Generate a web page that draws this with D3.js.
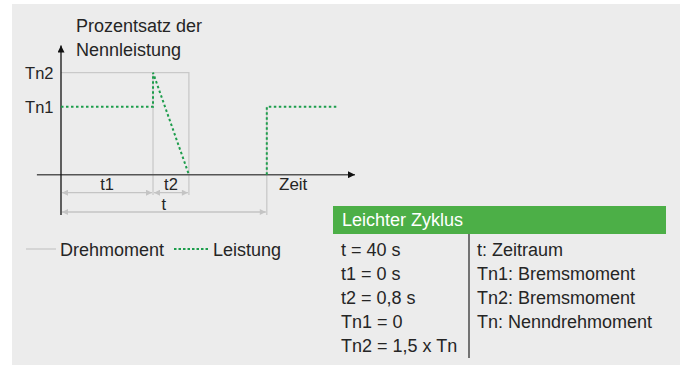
<!DOCTYPE html>
<html>
<head>
<meta charset="utf-8">
<script src="https://cdn.jsdelivr.net/npm/d3@7"></script>
<style>
  body { margin: 0; background: #fff; }
  svg text { font-family: "Liberation Sans", Arial, sans-serif; fill: #252525; }
</style>
</head>
<body>
<svg id="chart" width="680" height="365"></svg>
<script>
// level labels on the y axis (value in multiples of Tn)
var levelLabels = ['Tn1', 'Tn2'];
var levelValues = [1, 1.5];

// time marks (arbitrary units along the time axis)
var markNames = ['t1', 't2', 't'];
var markTimes = [31.3, 43.5, 70];

// power (Leistung) curve, two pieces
var powerTimes1 = [0, 31.3, 31.3, 43.5];
var powerValues1 = [1, 1, 1.5, 0];
var powerTimes2 = [70, 70, 94];
var powerValues2 = [0, 1, 1];

// torque (Drehmoment) curve
var torqueTimes = [0, 43.5, 43.5];
var torqueValues = [1.5, 1.5, 0];

// table content
var tableTitle = 'Leichter Zyklus';
var tableLeft = ['t = 40 s', 't1 = 0 s', 't2 = 0,8 s', 'Tn1 = 0', 'Tn2 = 1,5 x Tn'];
var tableRight = ['t: Zeitraum', 'Tn1: Bremsmoment', 'Tn2: Bremsmoment', 'Tn: Nenndrehmoment'];

var legendNames = ['Drehmoment', 'Leistung'];

var green = '#1d9d4c', grey = '#c9c9c9', dimGrey = '#c4c4c4';

var svg = d3.select('#chart');

svg.append('rect')
  .attr('x', 12).attr('y', 4)
  .attr('width', 668).attr('height', 361)
  .attr('fill', '#ececec');

var x = d3.scaleLinear().domain([0, 100]).range([61, 355]);
var y = d3.scaleLinear().domain([0, 1.9]).range([174.7, 45.5]);

var defs = svg.append('defs');
defs.append('marker').attr('id', 'arrowBlack')
  .attr('viewBox', '0 0 10 10').attr('refX', 10).attr('refY', 5)
  .attr('markerWidth', 10).attr('markerHeight', 7).attr('markerUnits', 'userSpaceOnUse')
  .attr('orient', 'auto')
  .append('path').attr('d', 'M0,0L10,5L0,10Z').attr('fill', '#111');
defs.append('marker').attr('id', 'arrowGrey')
  .attr('viewBox', '0 0 10 10').attr('refX', 10).attr('refY', 5)
  .attr('markerWidth', 8).attr('markerHeight', 6).attr('markerUnits', 'userSpaceOnUse')
  .attr('orient', 'auto-start-reverse')
  .append('path').attr('d', 'M0,0L10,5L0,10Z').attr('fill', dimGrey);

var line = d3.line().x(function(d) { return x(d[0]); }).y(function(d) { return y(d[1]); });

// extension lines of the time marks
svg.append('line')
  .attr('x1', x(markTimes[0])).attr('x2', x(markTimes[0]))
  .attr('y1', y(1.5)).attr('y2', 195)
  .attr('stroke', grey).attr('stroke-width', 1.3);
svg.append('line')
  .attr('x1', x(markTimes[1])).attr('x2', x(markTimes[1]))
  .attr('y1', y(0)).attr('y2', 195)
  .attr('stroke', grey).attr('stroke-width', 1.3);
svg.append('line')
  .attr('x1', x(markTimes[2])).attr('x2', x(markTimes[2]))
  .attr('y1', y(1)).attr('y2', 215)
  .attr('stroke', grey).attr('stroke-width', 1.3);

// torque
svg.append('path')
  .datum(d3.zip(torqueTimes, torqueValues))
  .attr('d', line)
  .attr('fill', 'none').attr('stroke', grey).attr('stroke-width', 1.3);

// axes
svg.append('line')
  .attr('x1', x(-8.2)).attr('x2', x(100))
  .attr('y1', y(0)).attr('y2', y(0))
  .attr('stroke', '#555').attr('stroke-width', 1.6)
  .attr('marker-end', 'url(#arrowBlack)');
svg.append('line')
  .attr('x1', x(0)).attr('x2', x(0))
  .attr('y1', 215).attr('y2', y(1.9))
  .attr('stroke', '#111').attr('stroke-width', 1.3)
  .attr('marker-end', 'url(#arrowBlack)');

// power
[d3.zip(powerTimes1, powerValues1), d3.zip(powerTimes2, powerValues2)].forEach(function(pts) {
  svg.append('path')
    .datum(pts)
    .attr('d', line)
    .attr('fill', 'none').attr('stroke', green)
    .attr('stroke-width', 2).attr('stroke-dasharray', '2.5,2.5');
});

// level labels
svg.selectAll('text.level')
  .data(levelLabels)
  .enter().append('text')
  .attr('class', 'level')
  .attr('x', 53.5)
  .attr('y', function(d, i) { return y(levelValues[i]) + 6.2; })
  .attr('text-anchor', 'end')
  .style('font-size', '16.5px')
  .text(function(d) { return d; });

// axis titles
svg.append('text').attr('x', 76).attr('y', 32).style('font-size', '18px').text('Prozentsatz der');
svg.append('text').attr('x', 76).attr('y', 55.5).style('font-size', '18px').text('Nennleistung');
svg.append('text').attr('x', 279).attr('y', 189.5).style('font-size', '17px').text('Zeit');

// dimension lines
var dims = [
  { from: 0, to: markTimes[0], y: 192.7, label: markNames[0], base: 190 },
  { from: markTimes[0], to: markTimes[1], y: 192.7, label: markNames[1], base: 190 },
  { from: 0, to: markTimes[2], y: 212, label: markNames[2], base: 210 }
];
dims.forEach(function(d) {
  svg.append('line')
    .attr('x1', x(d.from) + 1).attr('x2', x(d.to) - 1)
    .attr('y1', d.y).attr('y2', d.y)
    .attr('stroke', dimGrey).attr('stroke-width', 1.3)
    .attr('marker-start', 'url(#arrowGrey)')
    .attr('marker-end', 'url(#arrowGrey)');
  svg.append('text')
    .attr('x', (x(d.from) + x(d.to)) / 2)
    .attr('y', d.base)
    .attr('text-anchor', 'middle')
    .style('font-size', '16.5px')
    .text(d.label);
});

// legend
var lg = svg.append('g');
lg.append('line').attr('x1', 26).attr('x2', 56).attr('y1', 249).attr('y2', 249)
  .attr('stroke', grey).attr('stroke-width', 1.3);
lg.append('text').attr('x', 60).attr('y', 256).style('font-size', '18px').text(legendNames[0]);
lg.append('line').attr('x1', 174).attr('x2', 209).attr('y1', 249).attr('y2', 249)
  .attr('stroke', green).attr('stroke-width', 2).attr('stroke-dasharray', '2.5,2');
lg.append('text').attr('x', 213).attr('y', 256).style('font-size', '18px').text(legendNames[1]);

// table
var tb = svg.append('g');
tb.append('rect').attr('x', 333).attr('y', 206).attr('width', 333).attr('height', 28)
  .attr('fill', '#4caf47');
tb.append('text').attr('x', 342).attr('y', 226).style('font-size', '18px')
  .style('fill', '#fff').text(tableTitle);
tb.append('line').attr('x1', 469).attr('x2', 469).attr('y1', 234).attr('y2', 358)
  .attr('stroke', '#222').attr('stroke-width', 1.2);
tb.selectAll('text.left').data(tableLeft).enter().append('text')
  .attr('class', 'left')
  .attr('x', 341).attr('y', function(d, i) { return 255.7 + i * 24; })
  .style('font-size', '18px').text(function(d) { return d; });
tb.selectAll('text.right').data(tableRight).enter().append('text')
  .attr('class', 'right')
  .attr('x', 477).attr('y', function(d, i) { return 255.7 + i * 24; })
  .style('font-size', '18px').text(function(d) { return d; });
</script>
</body>
</html>
